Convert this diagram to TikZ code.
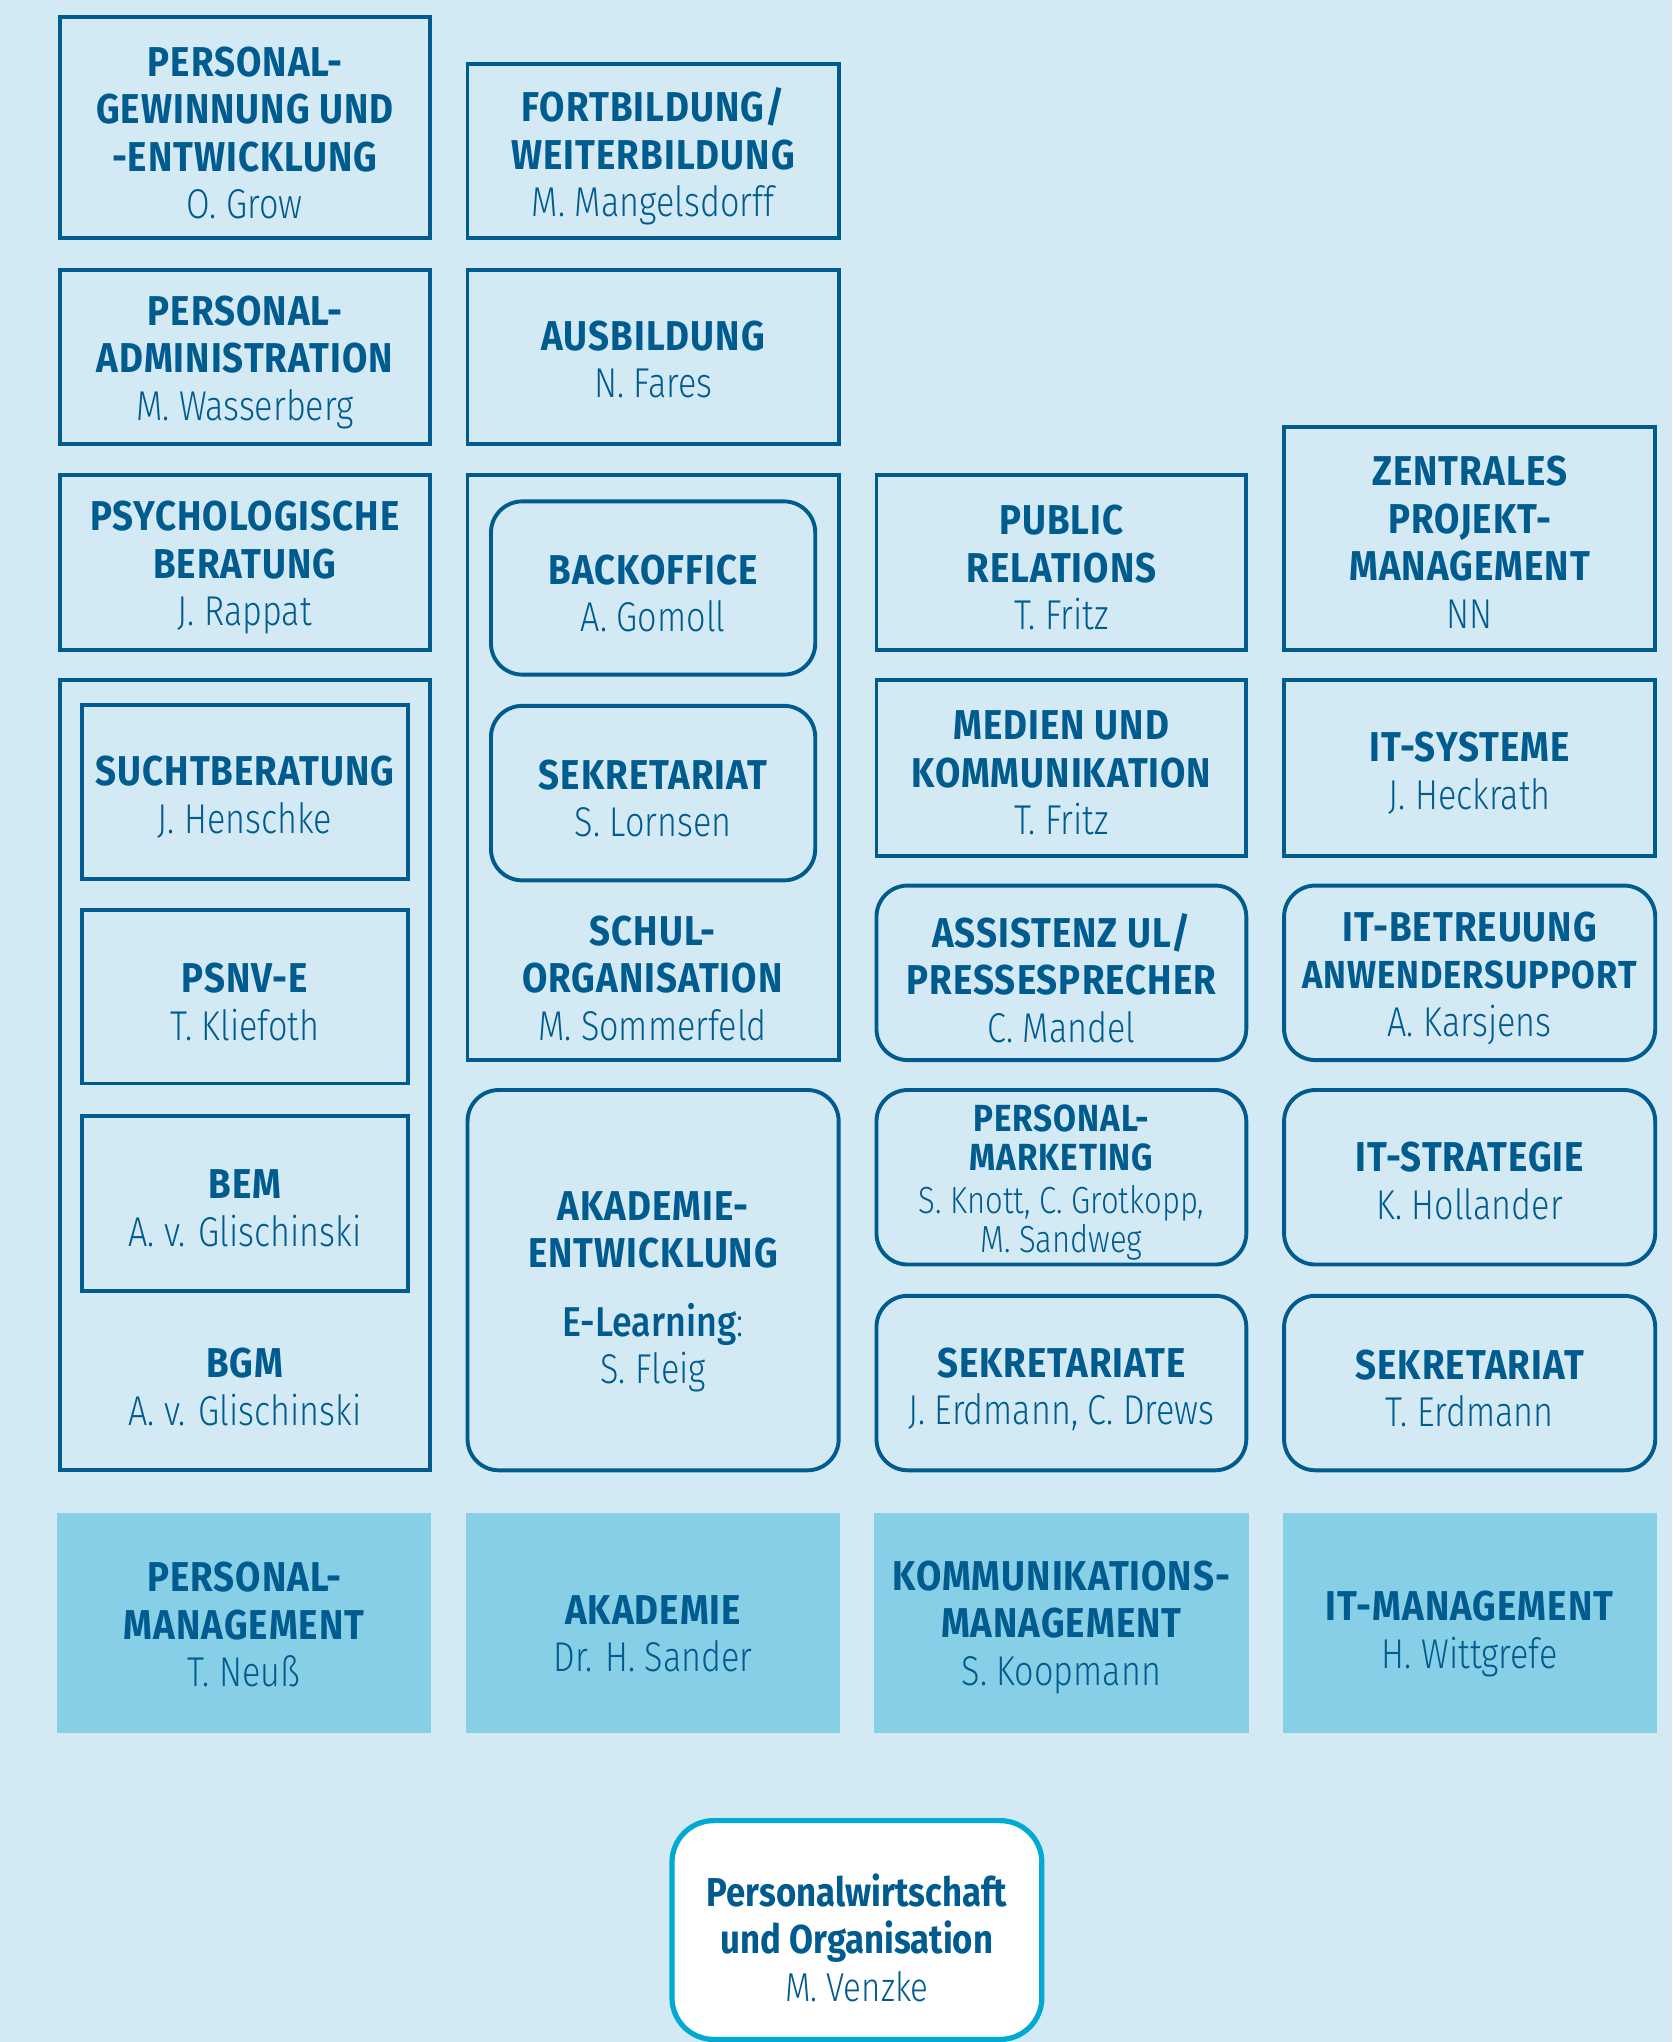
\documentclass[tikz,border=0pt]{standalone}
\usepackage{fontspec}
\setmainfont{Fira Sans}[FakeStretch=0.86]
\newfontfamily\ttlfont{Fira Sans}[FakeStretch=0.88, LetterSpace=2.5]
\newfontfamily\hdfont{Fira Sans}[FakeStretch=0.86]
\newfontfamily\lightfont{Fira Sans Light}[FakeStretch=0.82]
\newfontfamily\medfont{Fira Sans Medium}[FakeStretch=0.86]
\definecolor{bg}{HTML}{D3EAF4}
\definecolor{dk}{HTML}{005B8E}
\definecolor{fl}{HTML}{87CFE6}
\definecolor{cy}{HTML}{00AAD2}
\newcommand\nm[1]{{\lightfont\mdseries #1}}
\tikzset{
  tsh/.store in=\tsh, tsh=-4pt,
  box/.style={draw=dk, line width=3pt, inner sep=0pt, outer sep=0pt, align=center, text=dk,
    font=\ttlfont\bfseries\fontsize{32}{36.5}\selectfont},
  rbox/.style={box, rounded corners=24pt},
  fbox/.style={box, draw=none, fill=fl},
  mainbox/.style={box, draw=cy, fill=white, line width=4pt, rounded corners=32pt,
    font=\hdfont\bfseries\fontsize{31}{36.5}\selectfont},
  lbl/.style={inner sep=0pt, align=center, text=dk, font=\ttlfont\bfseries\fontsize{32}{36.5}\selectfont},
  small/.style={font=\ttlfont\bfseries\fontsize{29}{30.5}\selectfont}
}
% \bx{style}{name}{x1}{y1}{x2}{y2}{text}
\newcommand\bx[7]{%
  \node[#1, minimum width={#5-#3}, minimum height={#6-#4}] (#2) at ({(#3+#5)/2},{(#4+#6)/2}) {};
  \node[#1, draw=none, fill=none, minimum width=0pt, minimum height=0pt, yshift=\tsh] (#2t) at (#2.center) {#7};}
\begin{document}
\begin{tikzpicture}[x=1pt,y=-1pt]
\fill[bg] (0,0) rectangle (1284,1568);
\useasboundingbox (0,0) rectangle (1284,1568);
% column 1
\bx{box}{a1}{46}{13}{330}{183}{PERSONAL-\\GEWINNUNG UND\\-ENTWICKLUNG\\\nm{O. Grow}}
\bx{box}{a2}{46}{207}{330}{341}{PERSONAL-\\ADMINISTRATION\\\nm{M. Wasserberg}}
\bx{box}{a3}{46}{365}{330}{499}{PSYCHOLOGISCHE\\BERATUNG\\\nm{J. Rappat}}
\bx{box}{a4}{46}{522}{330}{1129}{}
\bx{box}{a4a}{63}{541}{313}{675}{SUCHTBERATUNG\\\nm{J. Henschke}}
\bx{box}{a4b}{63}{699}{313}{832}{PSNV-E\\\nm{T. Kliefoth}}
\bx{box}{a4c}{63}{857}{313}{991}{BEM\\\nm{A. v. Glischinski}}
\node[lbl] (a4t) at (188,1065) {BGM\\\nm{A. v. Glischinski}};
% column 2
\bx{box}{b1}{359}{49}{644}{183}{FORTBILDUNG/\\WEITERBILDUNG\\\nm{M. Mangelsdorff}}
\bx{box, tsh=-2pt}{b2}{359}{207}{644}{341}{AUSBILDUNG\\\nm{N. Fares}}
\bx{box}{b3}{359}{365}{644}{814}{}
\bx{rbox}{b3a}{377}{385}{626}{518}{BACKOFFICE\\\nm{A. Gomoll}}
\bx{rbox}{b3b}{377}{542}{626}{676}{SEKRETARIAT\\\nm{S. Lornsen}}
\node[lbl] (b3t) at (501,751) {SCHUL-\\ORGANISATION\\\nm{M. Sommerfeld}};
\bx{rbox, tsh=-9pt}{b4}{359}{837}{644}{1129}{AKADEMIE-\\ENTWICKLUNG\\[16pt]{\medfont\mdseries E-Learning\nm{:}}\\\nm{S. Fleig}}
% column 3
\bx{box}{c1}{673}{365}{957}{499}{PUBLIC\\RELATIONS\\\nm{T. Fritz}}
\bx{box}{c2}{673}{522}{957}{657}{MEDIEN UND\\KOMMUNIKATION\\\nm{T. Fritz}}
\bx{rbox}{c3}{673}{680}{957}{814}{ASSISTENZ UL/\\PRESSESPRECHER\\\nm{C. Mandel}}
\bx{rbox,small, tsh=-4pt}{c4}{673}{837}{957}{971}{PERSONAL-\\MARKETING\\[2pt]\nm{S. Knott, C. Grotkopp,}\\\nm{M. Sandweg}}
\bx{rbox, tsh=-5pt}{c5}{673}{995}{957}{1129}{SEKRETARIATE\\\nm{J. Erdmann, C. Drews}}
% column 4
\bx{box, tsh=-3pt}{d1}{986}{328}{1271}{499}{ZENTRALES\\PROJEKT-\\MANAGEMENT\\\nm{NN}}
\bx{box}{d2}{986}{522}{1271}{657}{IT-SYSTEME\\\nm{J. Heckrath}}
\bx{rbox}{d3}{986}{680}{1271}{814}{IT-BETREUUNG\\{\fontsize{30}{36.5}\selectfont ANWENDERSUPPORT}\\\nm{A. Karsjens}}
\bx{rbox, tsh=-3pt}{d4}{986}{837}{1271}{971}{IT-STRATEGIE\\\nm{K. Hollander}}
\bx{rbox}{d5}{986}{995}{1271}{1129}{SEKRETARIAT\\\nm{T. Erdmann}}
% bottom row
\bx{fbox, tsh=-1pt}{m1}{44}{1162}{331}{1331}{PERSONAL-\\MANAGEMENT\\\nm{T. Neuß}}
\bx{fbox, tsh=-8pt}{m2}{358}{1162}{645}{1331}{AKADEMIE\\\nm{Dr. H. Sander}}
\bx{fbox, tsh=-3pt}{m3}{671}{1162}{959}{1331}{KOMMUNIKATIONS-\\MANAGEMENT\\\nm{S. Koopmann}}
\bx{fbox, tsh=-8pt}{m4}{985}{1162}{1272}{1331}{IT-MANAGEMENT\\\nm{H. Wittgrefe}}
% head
\bx{mainbox, tsh=-6pt}{top}{516}{1398}{800}{1566}{Personalwirtschaft\\und Organisation\\\nm{M. Venzke}}
\end{tikzpicture}
\end{document}
